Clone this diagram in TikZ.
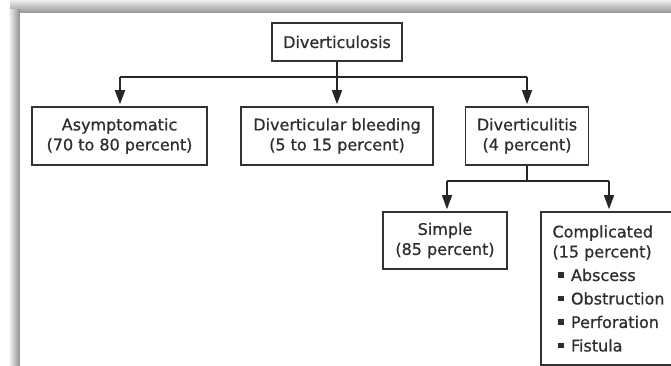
\documentclass[tikz,border=0pt]{standalone}
\usepackage{fontspec}
\setmainfont{DejaVu Sans}[BoldFont={DejaVu Sans}, BoldFeatures={FakeBold=0.8}]
\usetikzlibrary{arrows.meta}
\newcommand\mybul{\hspace*{6pt}\rule[3pt]{5.5pt}{5.5pt}\hspace{7pt}}
\begin{document}
\begin{tikzpicture}[x=1pt,y=-1pt,
  box/.style={draw=black!80, line width=1.6pt, fill=white, align=center, inner sep=0pt,
    font=\fontsize{16}{20}\selectfont\bfseries, text=black!82},
  wire/.style={draw=black!85, line width=1.5pt},
  conn/.style={wire, -{Triangle[width=10pt,length=14pt]}, shorten >=2pt}]
\useasboundingbox (0,0) rectangle (671,366);
\clip (0,0) rectangle (671,366);
\fill[white] (0,0) rectangle (671,366);
% frame shadow
\shade[top color=black!6, bottom color=black!42] (10,0) rectangle (671,13);
\shade[left color=white, right color=black!45] (8,10) rectangle (20,366);
\fill[white] (20,13) rectangle (671,366);
% nodes
\node[box, minimum width=130pt, minimum height=38pt] (top) at (337,42) {Diverticulosis};
\node[box, minimum width=175pt, minimum height=58pt] (asym) at (119.5,136) {Asymptomatic\\(70 to 80 percent)};
\node[box, minimum width=192pt, minimum height=58pt] (bleed) at (337,136) {Diverticular bleeding\\(5 to 15 percent)};
\node[box, minimum width=123pt, minimum height=58pt] (itis) at (527,136) {Diverticulitis\\(4 percent)};
\node[box, minimum width=124pt, minimum height=57pt] (simple) at (445,240.5) {Simple\\(85 percent)};
\node[box, align=left, minimum width=135pt, minimum height=153pt] (comp) at (608.5,288.5)
  {Complicated\\(15 percent)\\[3.5pt]\mybul Abscess\\[3.5pt]\mybul Obstruction\\[3.5pt]\mybul Perforation\\[3.5pt]\mybul Fistula};
% connectors
\coordinate (j1) at (337,77);
\coordinate (jl) at (120,77);
\coordinate (jr) at (527,77);
\draw[wire] (top.south) -- (j1);
\draw[wire] (jl) -- (jr);
\draw[conn] (jl) -- (jl |- asym.north);
\draw[conn] (j1) -- (bleed.north);
\draw[conn] (jr) -- (jr |- itis.north);
\coordinate (j2) at (527,181);
\coordinate (j2l) at (447,181);
\coordinate (j2r) at (609,181);
\draw[wire] (itis.south) -- (j2);
\draw[wire] (j2l) -- (j2r);
\draw[conn] (j2l) -- (j2l |- simple.north);
\draw[conn] (j2r) -- (j2r |- comp.north);
\end{tikzpicture}
\end{document}
